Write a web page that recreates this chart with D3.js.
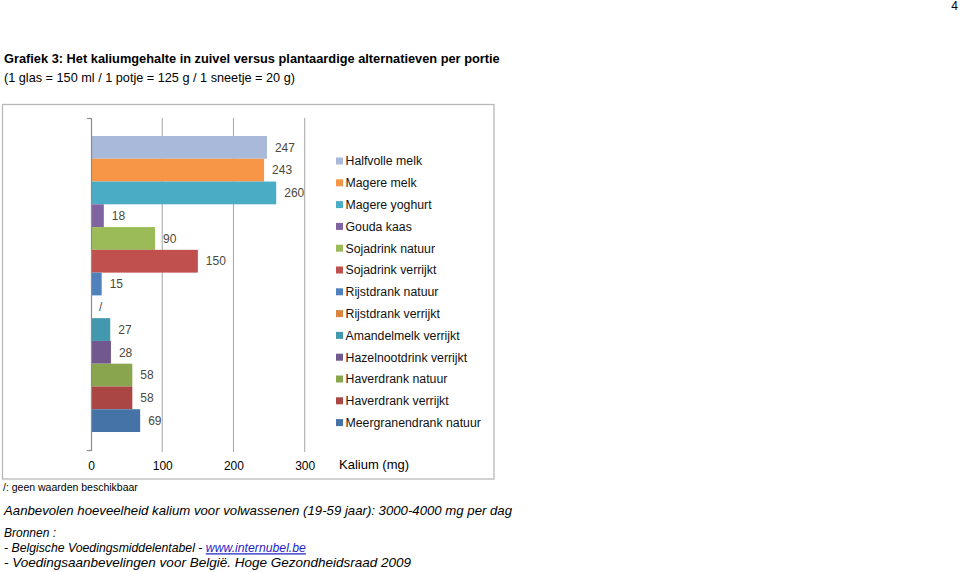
<!DOCTYPE html>
<html>
<head>
<meta charset="utf-8">
<script src="https://cdn.jsdelivr.net/npm/d3@7"></script>
<style>
  html, body { margin: 0; padding: 0; background: #ffffff; }
  svg { display: block; font-family: "Liberation Sans", Arial, sans-serif; }
</style>
</head>
<body>
<svg id="chart" width="960" height="572"></svg>
<script>
// ---- data ----
const categories = [
  "Halfvolle melk", "Magere melk", "Magere yoghurt", "Gouda kaas",
  "Sojadrink natuur", "Sojadrink verrijkt", "Rijstdrank natuur", "Rijstdrank verrijkt",
  "Amandelmelk verrijkt", "Hazelnootdrink verrijkt", "Haverdrank natuur",
  "Haverdrank verrijkt", "Meergranendrank natuur"
];
const values = [247, 243, 260, 18, 90, 150, 15, null, 27, 28, 58, 58, 69];
const colors = [
  "#a8b9da", "#f79646", "#4bacc6", "#8064a2", "#9bbb59", "#c0504d", "#4f81bd",
  "#db843d", "#4198af", "#71588f", "#89a54e", "#aa4643", "#4572a7"
];
const xTicks = [0, 100, 200, 300];
const missingLabel = "/";
const axisTitle = "Kalium (mg)";
const title = "Grafiek 3: Het kaliumgehalte in zuivel versus plantaardige alternatieven per portie";
const subtitle = "(1 glas = 150 ml / 1 potje = 125 g / 1 sneetje = 20 g)";
const note = "/: geen waarden beschikbaar";
const recommendation = "Aanbevolen hoeveelheid kalium voor volwassenen (19-59 jaar): 3000-4000 mg per dag";
const sourcesHead = "Bronnen :";
const source1Text = "- Belgische Voedingsmiddelentabel - ";
const source1Link = "www.internubel.be";
const source2 = "- Voedingsaanbevelingen voor België. Hoge Gezondheidsraad 2009";
const pageNumber = "4";

// ---- layout ----
const svg = d3.select("#chart");
svg.append("rect").attr("width", 960).attr("height", 572).attr("fill", "#fff");

const plotTop = 118, plotBottom = 450, plotLeft = 91, plotRight = 304.7;
const x = d3.scaleLinear().domain([0, 300]).range([plotLeft, plotRight]);
const y = d3.scaleBand().domain(categories).range([plotTop, plotBottom])
  .paddingInner(0).paddingOuter(0.79);
const color = d3.scaleOrdinal().domain(categories).range(colors);

// page number
svg.append("text").attr("x", 958).attr("y", 6).attr("dy", "0.35em")
  .attr("text-anchor", "end").attr("font-size", 12).attr("fill", "#000").text(pageNumber);

// titles
svg.append("text").attr("x", 4).attr("y", 59).attr("dy", "0.35em")
  .attr("font-size", 12.8).attr("font-weight", "bold").attr("fill", "#000").text(title);
svg.append("text").attr("x", 4).attr("y", 78).attr("dy", "0.35em")
  .attr("font-size", 12.7).attr("fill", "#000").text(subtitle);

// chart frame
svg.append("rect").attr("x", 2.5).attr("y", 104.5).attr("width", 491.5).attr("height", 374.5)
  .attr("fill", "none").attr("stroke", "#b8b8b8").attr("stroke-width", 1.3);

// gridlines
svg.append("g").selectAll("line").data(xTicks.filter(d => d > 0)).join("line")
  .attr("x1", d => x(d)).attr("x2", d => x(d))
  .attr("y1", plotTop).attr("y2", plotBottom + 2)
  .attr("stroke", "#a6a6a6").attr("stroke-width", 1);

// bars
svg.append("g").selectAll("rect").data(categories.map((c, i) => ({c, v: values[i]})).filter(d => d.v != null))
  .join("rect")
  .attr("x", x(0)).attr("y", d => y(d.c))
  .attr("width", d => x(d.v) - x(0)).attr("height", y.bandwidth())
  .attr("fill", d => color(d.c));

// category axis (left) with end ticks
const yEdge = d3.scaleLinear().domain([0, 1]).range([plotBottom, plotTop]);
const leftAxis = svg.append("g").attr("transform", `translate(${plotLeft},0)`)
  .call(d3.axisLeft(yEdge).tickValues([0, 1]).tickSize(4).tickFormat(""));
leftAxis.select(".domain").attr("stroke", "#8c8c8c").attr("stroke-width", 1.2);
leftAxis.selectAll(".tick line").attr("stroke", "#8c8c8c").attr("stroke-width", 1.2);

// value axis labels
const bottomAxis = svg.append("g").attr("transform", `translate(0,${plotBottom})`)
  .call(d3.axisBottom(x).tickValues(xTicks).tickSize(0).tickPadding(11).tickFormat(d3.format("d")));
bottomAxis.select(".domain").remove();
bottomAxis.selectAll("text").attr("font-size", 12).attr("fill", "#000")
  .attr("font-family", "Liberation Sans, Arial, sans-serif");

svg.append("text").attr("x", 339).attr("y", 464).attr("dy", "0.35em")
  .attr("font-size", 13).attr("fill", "#000").text(axisTitle);

// value labels
svg.append("g").selectAll("text").data(categories.map((c, i) => ({c, v: values[i]})))
  .join("text")
  .attr("x", d => x(d.v == null ? 0 : d.v) + 8)
  .attr("y", d => y(d.c) + y.bandwidth() / 2)
  .attr("dy", "0.35em")
  .attr("font-size", 12).attr("fill", "#4a4a3c")
  .text(d => d.v == null ? missingLabel : d.v);

// legend
const legend = svg.append("g").selectAll("g").data(categories).join("g")
  .attr("transform", (d, i) => `translate(336,${161 + i * 21.8})`);
legend.append("rect").attr("x", 0).attr("y", -3.5).attr("width", 7).attr("height", 7)
  .attr("fill", d => color(d));
legend.append("text").attr("x", 9.5).attr("y", 0).attr("dy", "0.35em")
  .attr("font-size", 12.3).attr("fill", "#111").text(d => d);

// notes under chart
svg.append("text").attr("x", 3).attr("y", 487).attr("dy", "0.35em")
  .attr("font-size", 10.5).attr("fill", "#000").text(note);
svg.append("text").attr("x", 4).attr("y", 510).attr("dy", "0.35em")
  .attr("font-size", 13.2).attr("font-style", "italic").attr("fill", "#000").text(recommendation);
svg.append("text").attr("x", 4).attr("y", 533).attr("dy", "0.35em")
  .attr("font-size", 12).attr("font-style", "italic").attr("fill", "#000").text(sourcesHead);
const s1 = svg.append("text").attr("x", 4).attr("y", 548).attr("dy", "0.35em")
  .attr("font-size", 12.25).attr("font-style", "italic").attr("fill", "#000");
s1.append("tspan").text(source1Text);
s1.append("tspan").attr("fill", "#1f1fbf").attr("text-decoration", "underline").text(source1Link);
svg.append("text").attr("x", 4).attr("y", 562).attr("dy", "0.35em")
  .attr("font-size", 13.5).attr("font-style", "italic").attr("fill", "#000").text(source2);
</script>
</body>
</html>
